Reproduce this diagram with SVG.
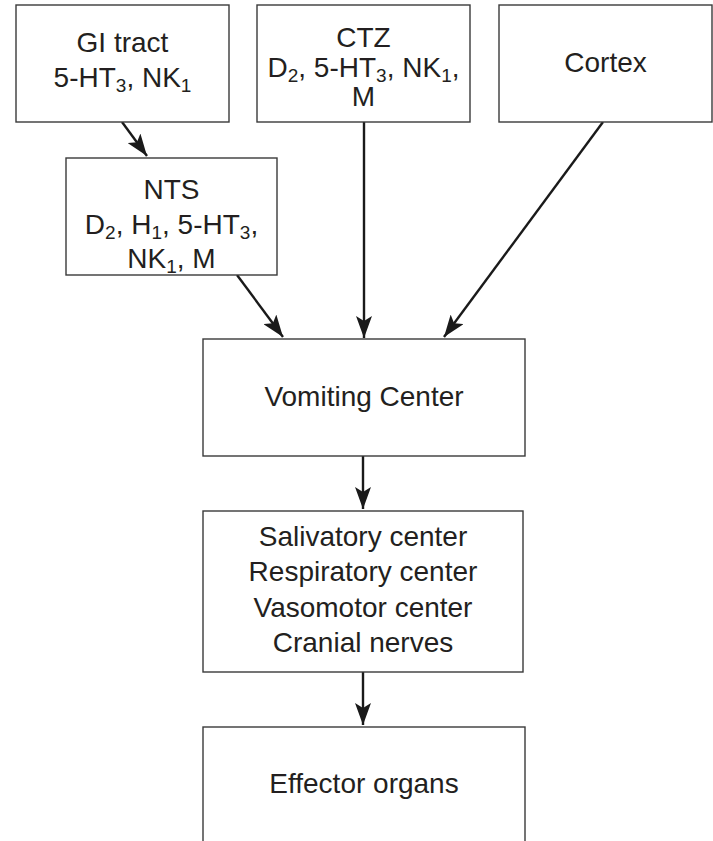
<svg xmlns="http://www.w3.org/2000/svg" width="713" height="841" viewBox="0 0 713 841">
<style>
.box{fill:#fff;stroke:#3a3a3a;stroke-width:1.4}
.t{font-family:"Liberation Sans",Arial,sans-serif;font-size:28px;fill:#231f20;text-anchor:middle}
.s{font-size:19px}
.c{stroke:#1a1a1a;stroke-width:2.4;fill:none;marker-end:url(#ah)}
</style>
<defs>
<marker id="ah" markerUnits="userSpaceOnUse" markerWidth="24" markerHeight="16" refX="22" refY="8" orient="auto">
<path d="M0,0 L22,8 L0,16 L5,8 z" fill="#1a1a1a"/>
</marker>
</defs>
<rect width="713" height="841" fill="#fff"/>
<g id="connectors">
<line class="c" x1="122" y1="122" x2="147" y2="156"/>
<line class="c" x1="237" y1="275" x2="283" y2="337"/>
<line class="c" x1="364" y1="122" x2="364" y2="338"/>
<line class="c" x1="603" y1="122" x2="444" y2="337"/>
<line class="c" x1="363" y1="456" x2="363" y2="509"/>
<line class="c" x1="363" y1="672" x2="363" y2="725"/>
</g>
<g id="gi">
<rect class="box" x="16" y="5" width="213" height="117"/>
<text class="t" x="122.5" y="52">GI tract</text>
<text class="t" x="122.5" y="87">5-HT<tspan class="s" dy="5">3</tspan><tspan dy="-5">, NK</tspan><tspan class="s" dy="5">1</tspan></text>
</g>
<g id="nts">
<rect class="box" x="66" y="158" width="211" height="117"/>
<text class="t" x="171.5" y="199">NTS</text>
<text class="t" x="171.5" y="234">D<tspan class="s" dy="5">2</tspan><tspan dy="-5">, H</tspan><tspan class="s" dy="5">1</tspan><tspan dy="-5">, 5-HT</tspan><tspan class="s" dy="5">3</tspan><tspan dy="-5">,</tspan></text>
<text class="t" x="171.5" y="268">NK<tspan class="s" dy="5">1</tspan><tspan dy="-5">, M</tspan></text>
</g>
<g id="ctz">
<rect class="box" x="257" y="5" width="213" height="117"/>
<text class="t" x="363.5" y="47">CTZ</text>
<text class="t" x="363.5" y="77">D<tspan class="s" dy="5">2</tspan><tspan dy="-5">, 5-HT</tspan><tspan class="s" dy="5">3</tspan><tspan dy="-5">, NK</tspan><tspan class="s" dy="5">1</tspan><tspan dy="-5">,</tspan></text>
<text class="t" x="363.5" y="106">M</text>
</g>
<g id="cortex">
<rect class="box" x="499" y="5" width="213" height="117"/>
<text class="t" x="605.5" y="72">Cortex</text>
</g>
<g id="vomiting">
<rect class="box" x="203" y="339" width="322" height="117"/>
<text class="t" x="364" y="406">Vomiting Center</text>
</g>
<g id="centers">
<rect class="box" x="203" y="511" width="320" height="161"/>
<text class="t" x="363" y="546">Salivatory center</text>
<text class="t" x="363" y="581">Respiratory center</text>
<text class="t" x="363" y="617">Vasomotor center</text>
<text class="t" x="363" y="652">Cranial nerves</text>
</g>
<g id="effector">
<rect class="box" x="203" y="727" width="322" height="130"/>
<text class="t" x="364" y="793">Effector organs</text>
</g>
</svg>
